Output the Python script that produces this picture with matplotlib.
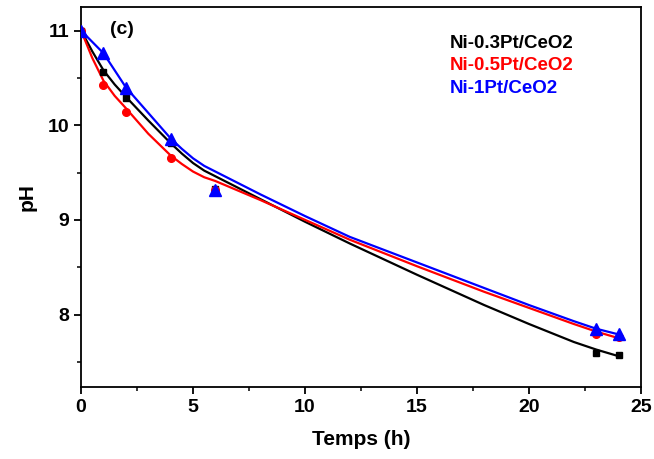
import numpy as np
import matplotlib
matplotlib.use("Agg")
import matplotlib.pyplot as plt
from matplotlib.ticker import MultipleLocator

# measured points
t_meas = [0, 1, 2, 4, 6, 23, 24]
ph_03 = [11.0, 10.56, 10.29, 9.81, 9.33, 7.59, 7.57]
ph_05 = [11.0, 10.42, 10.14, 9.65, 9.32, 7.79, 7.76]
ph_1 = [11.0, 10.76, 10.39, 9.85, 9.32, 7.85, 7.79]

# fitted curves
t_fit = [0, 0.5, 1, 1.5, 2, 3, 4, 4.5, 5, 5.5, 6, 7, 8, 10, 12, 15, 18, 20,
         22, 23, 24]
fit_03 = [11.0, 10.78, 10.58, 10.43, 10.30, 10.05, 9.81, 9.70, 9.60, 9.52,
          9.46, 9.34, 9.22, 8.98, 8.75, 8.42, 8.10, 7.90, 7.71, 7.63, 7.56]
fit_05 = [11.0, 10.71, 10.47, 10.31, 10.18, 9.91, 9.68, 9.59, 9.51, 9.45,
          9.41, 9.31, 9.21, 9.00, 8.79, 8.51, 8.24, 8.07, 7.90, 7.82, 7.75]
fit_1 = [11.0, 10.88, 10.76, 10.58, 10.40, 10.13, 9.86, 9.75, 9.65, 9.57,
         9.51, 9.39, 9.27, 9.04, 8.82, 8.55, 8.28, 8.10, 7.93, 7.85, 7.79]

labels = ["Ni-0.3Pt/CeO2", "Ni-0.5Pt/CeO2", "Ni-1Pt/CeO2"]
colors = ["black", "red", "blue"]
markers = ["s", "o", "^"]
msizes = [5, 5.5, 8]

plt.rcParams['font.family'] = ['Liberation Sans', 'DejaVu Sans']
plt.rcParams['font.weight'] = 'bold'

fig = plt.figure(figsize=(6.54, 4.59), dpi=100)
ax = fig.add_axes([0.124, 0.156, 0.856, 0.829])

series = [ph_03, ph_05, ph_1]
fits = [fit_03, fit_05, fit_1]
for ph, fit, c, m, ms in zip(series, fits, colors, markers, msizes):
    ax.plot(t_fit, fit, color=c, lw=1.6, zorder=2, solid_joinstyle='round')
    ax.plot(t_meas, ph, ls='none', marker=m, ms=ms, color=c, zorder=3)

ax.set_xlim(0, 25)
ax.set_ylim(7.23, 11.25)
ax.xaxis.set_major_locator(MultipleLocator(5))
ax.xaxis.set_minor_locator(MultipleLocator(2.5))
ax.yaxis.set_major_locator(MultipleLocator(1))
ax.yaxis.set_minor_locator(MultipleLocator(0.5))
ax.tick_params(which='major', direction='out', length=5, width=1.3,
               labelsize=14, top=False, right=False)
ax.tick_params(which='minor', direction='out', length=3, width=1.1,
               top=False, right=False)
for lab in ax.get_xticklabels() + ax.get_yticklabels():
    lab.set_fontweight('bold')
for sp in ax.spines.values():
    sp.set_linewidth(1.3)

ax.set_xlabel("Temps (h)", fontsize=15, fontweight='bold', labelpad=10)
ax.set_ylabel("pH", fontsize=15, fontweight='bold', labelpad=8)

ax.text(0.052, 0.94, "(c)", transform=ax.transAxes, fontsize=14,
        fontweight='bold', va='center')
for i, (lab, c) in enumerate(zip(labels, colors)):
    ax.text(0.658, 0.905 - i * 0.0597, lab, color=c, transform=ax.transAxes,
            fontsize=13.5, fontweight='bold', va='center')

fig.savefig("out.png", dpi=100)
